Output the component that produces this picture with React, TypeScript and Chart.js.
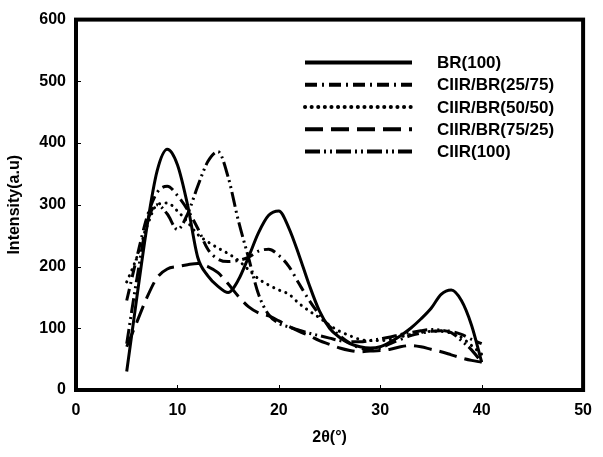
import React, { useEffect, useRef } from 'react';
import { Chart, registerables } from 'chart.js';

Chart.register(...registerables);

const xValues = [5, 6, 7, 8, 9, 10, 11, 12, 13, 14, 15, 16, 17, 18, 19, 20, 21, 22, 23, 24, 25, 26, 27, 28, 29, 30, 31, 32, 33, 34, 35, 36, 37, 38, 39, 40];

const br100 = [30, 150, 265, 355, 390, 365, 300, 215, 185, 168, 158, 178, 215, 255, 283, 290, 262, 218, 170, 128, 100, 85, 75, 70, 68, 70, 78, 88, 100, 115, 132, 155, 162, 145, 105, 45];
const ciirBr2575 = [145, 215, 280, 320, 330, 315, 292, 262, 228, 212, 208, 210, 215, 225, 228, 218, 200, 172, 145, 122, 103, 88, 76, 68, 65, 68, 75, 82, 88, 92, 95, 96, 95, 90, 82, 75];
const ciirBr5050 = [175, 215, 265, 300, 303, 290, 272, 252, 240, 230, 221, 210, 195, 180, 170, 162, 155, 140, 128, 117, 105, 95, 88, 82, 80, 80, 82, 86, 90, 93, 95, 95, 92, 85, 72, 58];
const ciirBr7525 = [70, 110, 150, 182, 196, 200, 203, 205, 200, 190, 172, 152, 135, 125, 120, 112, 103, 95, 88, 80, 74, 68, 64, 62, 63, 64, 66, 70, 72, 70, 66, 62, 57, 52, 48, 45];
const ciir100 = [75, 180, 270, 300, 285, 260, 285, 330, 370, 386, 345, 275, 215, 155, 122, 108, 102, 97, 92, 88, 84, 80, 78, 78, 80, 83, 86, 90, 93, 96, 98, 97, 93, 80, 65, 45];

const seriesLabels = ['BR(100)', 'CIIR/BR(25/75)', 'CIIR/BR(50/50)', 'CIIR/BR(75/25)', 'CIIR(100)'];
const seriesValues = [br100, ciirBr2575, ciirBr5050, ciirBr7525, ciir100];
const seriesDashes: number[][] = [[], [12, 5, 2, 5], [0.1, 6.5], [18, 8], [15, 4, 2, 4, 2, 4]];
const seriesCaps = ['butt', 'butt', 'round', 'butt', 'butt'];

const xTitle = '2θ(°)';
const yTitle = 'Intensity(a.u)';

const FONT = "'Liberation Sans', Arial, sans-serif";

const framePlugin = {
  id: 'frameAndLegend',
  afterDraw(chart: any) {
    const { ctx, chartArea: a, scales } = chart;
    ctx.save();
    ctx.strokeStyle = '#000';
    ctx.lineWidth = 1;
    // inside ticks
    scales.x.ticks.forEach((t: any) => {
      const px = Math.round(scales.x.getPixelForValue(t.value)) + 0.5;
      ctx.beginPath();
      ctx.moveTo(px, a.bottom);
      ctx.lineTo(px, a.bottom - 5);
      ctx.stroke();
    });
    scales.y.ticks.forEach((t: any) => {
      const py = Math.round(scales.y.getPixelForValue(t.value)) + 0.5;
      ctx.beginPath();
      ctx.moveTo(a.left, py);
      ctx.lineTo(a.left + 5, py);
      ctx.stroke();
    });
    // frame
    ctx.lineWidth = 4;
    ctx.strokeRect(a.left, a.top, a.right - a.left, a.bottom - a.top);
    // legend
    const lx0 = a.left + 229;
    const lx1 = a.left + 336;
    const tx = a.left + 361;
    const y0 = a.top + 43;
    const dy = 22.2;
    chart.data.datasets.forEach((ds: any, i: number) => {
      const y = y0 + i * dy;
      ctx.save();
      ctx.lineWidth = 4;
      ctx.setLineDash(ds.borderDash || []);
      ctx.lineCap = ds.borderCapStyle || 'butt';
      ctx.beginPath();
      ctx.moveTo(lx0, y);
      ctx.lineTo(lx1, y);
      ctx.stroke();
      ctx.restore();
      ctx.fillStyle = '#000';
      ctx.font = `bold 17px ${FONT}`;
      ctx.textBaseline = 'middle';
      ctx.textAlign = 'left';
      ctx.fillText(ds.label, tx, y + 1);
    });
    ctx.restore();
  },
};

export default function App() {
  const ref = useRef<HTMLCanvasElement | null>(null);
  useEffect(() => {
    if (!ref.current) return;
    const datasets = seriesLabels.map((label, i) => ({
      label,
      data: xValues.map((x, j) => ({ x, y: seriesValues[i][j] })),
      borderColor: '#000',
      backgroundColor: '#000',
      borderWidth: 3,
      borderDash: seriesDashes[i],
      borderCapStyle: seriesCaps[i],
      pointRadius: 0,
      fill: false,
      cubicInterpolationMode: 'monotone',
    }));
    const chart = new Chart(ref.current, {
      type: 'line',
      data: { datasets } as any,
      options: {
        animation: false,
        responsive: false,
        devicePixelRatio: 1,
        layout: { padding: { top: 15, right: 9, left: 0, bottom: 0 } },
        plugins: { legend: { display: false }, tooltip: { enabled: false } },
        scales: {
          x: {
            type: 'linear',
            min: 0,
            max: 50,
            ticks: { stepSize: 10, color: '#000', padding: 11, font: { family: FONT, size: 16, weight: 'bold' } },
            grid: { display: false, drawTicks: false },
            border: { display: false },
            title: { display: true, text: xTitle, color: '#000', padding: { top: 0, bottom: 10 }, font: { family: FONT, size: 16, weight: 'bold' } },
            afterFit: (s: any) => { s.height = 67; },
          },
          y: {
            type: 'linear',
            min: 0,
            max: 600,
            ticks: { stepSize: 100, color: '#000', padding: 10, font: { family: FONT, size: 16, weight: 'bold' } },
            grid: { display: false, drawTicks: false },
            border: { display: false },
            title: { display: true, text: yTitle, color: '#000', padding: { top: 5, bottom: 0 }, font: { family: FONT, size: 16, weight: 'bold' } },
            afterFit: (s: any) => { s.width = 76; },
          },
        },
      } as any,
      plugins: [framePlugin],
    });
    return () => chart.destroy();
  }, []);
  return (
    <div style={{ position: 'fixed', left: 0, top: 0, width: 603, height: 457, background: '#fff' }}>
      <canvas ref={ref} width={603} height={457} style={{ display: 'block' }} />
    </div>
  );
}
